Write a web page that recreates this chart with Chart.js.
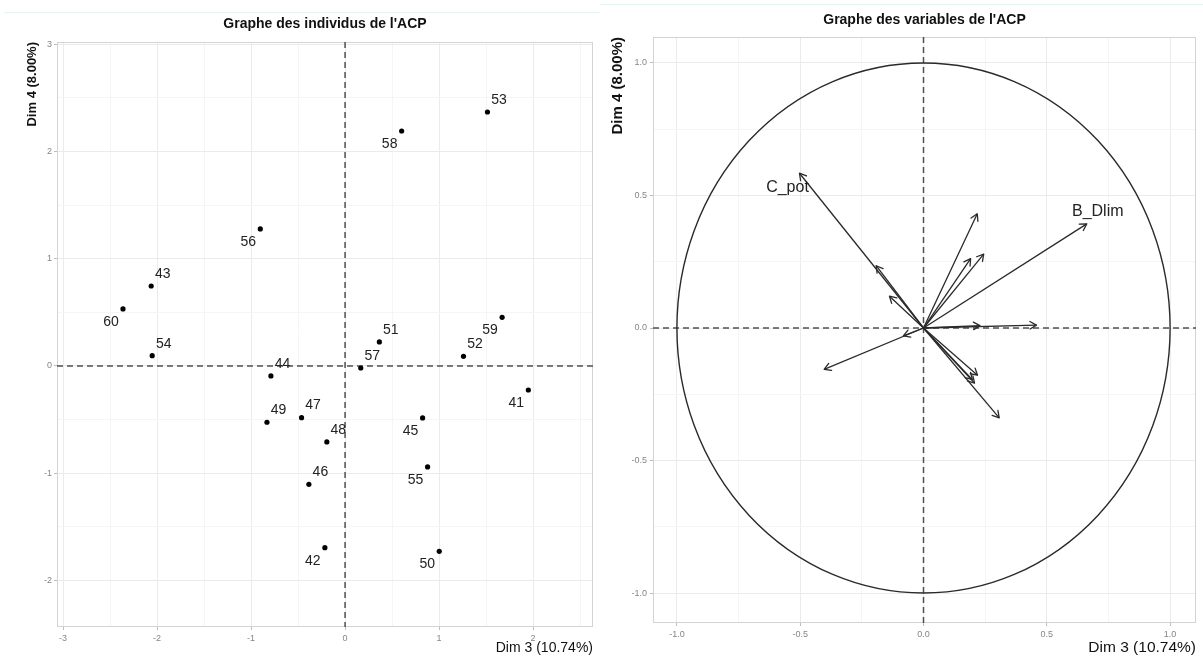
<!DOCTYPE html>
<html><head><meta charset="utf-8">
<script src="https://cdn.jsdelivr.net/npm/chart.js@4"></script>
<style>
html,body{margin:0;padding:0;background:#fff;width:1203px;height:659px;overflow:hidden}
#c1{position:absolute;left:0;top:0}
#c2{position:absolute;left:600px;top:0}
.topline{position:absolute;height:0;border-top:1px solid #e4f2f2}
</style></head><body>
<div class="topline" style="left:4px;top:12px;width:596px"></div>
<div class="topline" style="left:600px;top:4px;width:603px"></div>
<canvas id="c1" width="600" height="659"></canvas>
<canvas id="c2" width="603" height="659"></canvas>
<script>
// ---------- Data: individuals (Dim 3 / Dim 4) ----------
const indivIds = ['41','42','43','44','45','46','47','48','49','50','51','52','53','54','55','56','57','58','59','60'];
const dim3Ind  = [1.950,-0.215,-2.063,-0.789,0.825,-0.385,-0.463,-0.194,-0.831,1.002,0.365,1.260,1.515,-2.052,0.878,-0.902,0.167,0.602,1.671,-2.363];
const dim4Ind  = [-0.224,-1.695,0.746,-0.093,-0.485,-1.104,-0.482,-0.709,-0.525,-1.729,0.224,0.090,2.369,0.096,-0.942,1.278,-0.019,2.192,0.454,0.532];
// label placement: 'ur' = up-right, 'dl' = down-left
const indLabelSide = ['dl','dl','ur','ur','dl','ur','ur','ur','ur','dl','ur','ur','ur','ur','dl','dl','ur','dl','dl','dl'];

// ---------- Data: variables (Dim 3 / Dim 4 coordinates) ----------
const varLabels = ['C_pot','','','','','','','','B_Dlim','','','','','',''];
const dim3Var   = [-0.503,-0.192,-0.138,-0.403,-0.082,0.218,0.191,0.244,0.662,0.229,0.458,0.219,0.207,0.198,0.307];
const dim4Var   = [0.584,0.235,0.120,-0.156,-0.030,0.431,0.262,0.279,0.393,0.009,0.011,-0.178,-0.208,-0.195,-0.339];

// ---------- Axis tick labels ----------
const indXTicks = [-3,-2,-1,0,1,2];
const indYTicks = [-2,-1,0,1,2,3];
const varTicks  = ['-1.0','-0.5','0.0','0.5','1.0'];

const FAM = "'Liberation Sans', Arial, Helvetica, sans-serif";
const GRID_MAJOR = '#ebebeb', GRID_MINOR = '#f5f5f5', BORDER = '#d3d3d3';

function near(a, b){ return Math.abs(a - b) < 1e-6; }

function axisCfg(opts){
  const isMajor = opts.isMajor;
  return {
    type: 'linear', min: opts.min, max: opts.max, position: opts.position,
    border: {display: false},
    grid: {
      color: c => isMajor(c.tick.value) ? GRID_MAJOR : GRID_MINOR,
      lineWidth: 1, drawTicks: true, tickLength: 3,
      tickColor: c => isMajor(c.tick.value) ? '#bdbdbd' : 'rgba(0,0,0,0)'
    },
    ticks: {
      stepSize: opts.step, includeBounds: false, autoSkip: false, maxRotation: 0, minRotation: 0,
      padding: opts.tickPad, color: '#858585', font: {family: FAM, size: 9},
      callback: opts.label
    },
    title: opts.title,
    afterFit: opts.fit
  };
}

const framePlugin = {
  id: 'frame',
  beforeDatasetsDraw(chart){
    const {ctx, chartArea: a} = chart;
    ctx.save();
    ctx.strokeStyle = BORDER; ctx.lineWidth = 1;
    ctx.strokeRect(Math.round(a.left) + 0.5, Math.round(a.top) + 0.5, Math.round(a.right - a.left) - 1, Math.round(a.bottom - a.top) - 1);
    // zero reference lines
    const x0 = chart.scales.x.getPixelForValue(0), y0 = chart.scales.y.getPixelForValue(0);
    ctx.strokeStyle = '#505050'; ctx.lineWidth = 1.5; ctx.setLineDash([6, 4]);
    ctx.beginPath();
    ctx.moveTo(x0, a.top); ctx.lineTo(x0, a.bottom);
    ctx.moveTo(a.left, y0); ctx.lineTo(a.right, y0);
    ctx.stroke();
    ctx.restore();
  }
};

// ---------- Chart 1: individuals ----------
const indLabelPlugin = {
  id: 'indLabels',
  afterDatasetsDraw(chart){
    const ctx = chart.ctx, meta = chart.getDatasetMeta(0);
    ctx.save();
    ctx.font = '14px ' + FAM; ctx.fillStyle = '#222';
    ctx.textAlign = 'center'; ctx.textBaseline = 'middle';
    meta.data.forEach((pt, i) => {
      const ur = indLabelSide[i] === 'ur';
      ctx.fillText(indivIds[i], pt.x + (ur ? 11.5 : -12), pt.y + (ur ? -12 : 13));
    });
    ctx.restore();
  }
};

new Chart(document.getElementById('c1'), {
  type: 'scatter',
  data: {datasets: [{
    data: indivIds.map((id, i) => ({x: dim3Ind[i], y: dim4Ind[i]})),
    backgroundColor: '#000', borderColor: '#000', pointRadius: 2.6, pointHoverRadius: 2.6, borderWidth: 0
  }]},
  options: {
    responsive: false, animation: false, events: [],
    layout: {padding: {left: 0, right: 7, top: 0, bottom: 0}},
    plugins: {
      legend: {display: false}, tooltip: {enabled: false},
      title: {display: true, text: "Graphe des individus de l'ACP", fullSize: false, color: '#111',
              font: {family: FAM, size: 14, weight: 'bold'}, padding: {top: 16, bottom: 9.2}}
    },
    scales: {
      x: axisCfg({min: -3.065, max: 2.638, step: 0.5, position: 'bottom', tickPad: 3,
        isMajor: v => indXTicks.some(t => near(t, v)),
        label: v => { const t = indXTicks.find(t => near(t, v)); return t === undefined ? '' : String(t); },
        title: {display: true, text: 'Dim 3 (10.74%)', align: 'end', color: '#111', font: {family: FAM, size: 14}, padding: {top: 0, bottom: 2.6}},
        fit: s => { s.height = 32; }}),
      y: axisCfg({min: -2.435, max: 3.022, step: 0.5, position: 'left', tickPad: 2,
        isMajor: v => indYTicks.some(t => near(t, v)),
        label: v => { const t = indYTicks.find(t => near(t, v)); return t === undefined ? '' : String(t); },
        title: {display: true, text: 'Dim 4 (8.00%)', align: 'end', color: '#111', font: {family: FAM, size: 13, weight: 'bold'}, padding: {top: 25, bottom: 0}},
        fit: s => { s.width = 57; }})
    }
  },
  plugins: [framePlugin, indLabelPlugin]
});

// ---------- Chart 2: variables ----------
const varPlugin = {
  id: 'varArrows',
  beforeDatasetsDraw(chart){
    // correlation circle (radius 1 in data units)
    const {ctx} = chart, xs = chart.scales.x, ys = chart.scales.y;
    const cx = xs.getPixelForValue(0), cy = ys.getPixelForValue(0);
    const rx = xs.getPixelForValue(1) - cx, ry = cy - ys.getPixelForValue(1);
    ctx.save();
    ctx.strokeStyle = '#2a2a2a'; ctx.lineWidth = 1.4;
    ctx.beginPath(); ctx.ellipse(cx, cy, rx, ry, 0, 0, Math.PI * 2); ctx.stroke();
    ctx.restore();
  },
  afterDatasetsDraw(chart){
    const ctx = chart.ctx;
    ctx.save();
    ctx.strokeStyle = '#2a2a2a'; ctx.lineWidth = 1.3; ctx.lineCap = 'round'; ctx.lineJoin = 'round';
    chart.data.datasets.forEach((ds, i) => {
      const meta = chart.getDatasetMeta(i);
      const p0 = meta.data[0], p1 = meta.data[1];
      const ang = Math.atan2(p1.y - p0.y, p1.x - p0.x), L = 7.5, a = Math.PI / 6;
      ctx.beginPath();
      ctx.moveTo(p1.x - L * Math.cos(ang - a), p1.y - L * Math.sin(ang - a));
      ctx.lineTo(p1.x, p1.y);
      ctx.lineTo(p1.x - L * Math.cos(ang + a), p1.y - L * Math.sin(ang + a));
      ctx.stroke();
    });
    ctx.font = '16px ' + FAM; ctx.fillStyle = '#222';
    ctx.textAlign = 'center'; ctx.textBaseline = 'middle';
    chart.data.datasets.forEach((ds, i) => {
      if (!varLabels[i]) return;
      const p1 = chart.getDatasetMeta(i).data[1];
      const left = dim3Var[i] < 0;
      ctx.fillText(varLabels[i], p1.x + (left ? -12 : 11), p1.y + (left ? 14 : -12));
    });
    ctx.restore();
  }
};

new Chart(document.getElementById('c2'), {
  type: 'scatter',
  data: {datasets: dim3Var.map((vx, i) => ({
    label: varLabels[i] || ('v' + i),
    data: [{x: 0, y: 0}, {x: vx, y: dim4Var[i]}],
    showLine: true, borderColor: '#2a2a2a', borderWidth: 1.3, pointRadius: 0, pointHoverRadius: 0
  }))},
  options: {
    responsive: false, animation: false, events: [],
    layout: {padding: {left: 0, right: 7, top: 0, bottom: 0}},
    plugins: {
      legend: {display: false}, tooltip: {enabled: false},
      title: {display: true, text: "Graphe des variables de l'ACP", fullSize: false, color: '#111',
              font: {family: FAM, size: 14, weight: 'bold'}, padding: {top: 11.6, bottom: 8.6}}
    },
    scales: {
      x: axisCfg({min: -1.097, max: 1.105, step: 0.25, position: 'bottom', tickPad: 3,
        isMajor: v => varTicks.some(t => near(+t, v)),
        label: v => { const t = varTicks.find(t => near(+t, v)); return t === undefined ? '' : t; },
        title: {display: true, text: 'Dim 3 (10.74%)', align: 'end', color: '#111', font: {family: FAM, size: 15.5}, padding: {top: 0, bottom: 1.7}},
        fit: s => { s.height = 36; }}),
      y: axisCfg({min: -1.113, max: 1.098, step: 0.25, position: 'left', tickPad: 3,
        isMajor: v => varTicks.some(t => near(+t, v)),
        label: v => { const t = varTicks.find(t => near(+t, v)); return t === undefined ? '' : t; },
        title: {display: true, text: 'Dim 4 (8.00%)', align: 'end', color: '#111', font: {family: FAM, size: 15, weight: 'bold'}, padding: {top: 9, bottom: 0}},
        fit: s => { s.width = 53; }})
    }
  },
  plugins: [framePlugin, varPlugin]
});
</script>
</body></html>
